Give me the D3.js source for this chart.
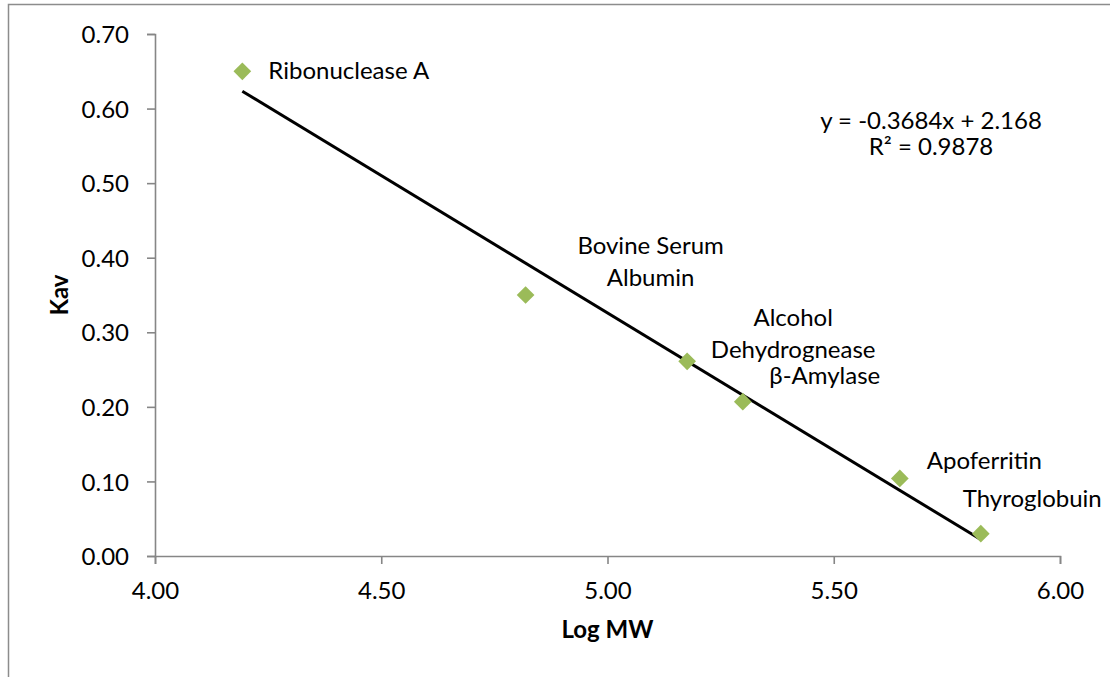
<!DOCTYPE html>
<html>
<head>
<meta charset="utf-8">
<script src="https://cdn.jsdelivr.net/npm/d3@7"></script>
<style>
  html, body { margin: 0; padding: 0; background: #fff; }
  svg { display: block; font-family: Lato, "Open Sans", sans-serif; }
</style>
</head>
<body>
<svg id="chart" width="1110" height="677"></svg>
<script>
// Protein standards: log molecular weight vs. partition coefficient
const proteins = ["Ribonuclease A", "Bovine Serum Albumin", "Alcohol Dehydrognease", "β-Amylase", "Apoferritin", "Thyroglobuin"];
const logMW = [4.193, 4.819, 5.176, 5.299, 5.646, 5.825];
const kav = [0.650, 0.350, 0.261, 0.207, 0.104, 0.030];

// Linear fit reported for the standards
const slope = -0.3684;
const intercept = 2.168;
const rSquared = 0.9878;

const xTicks = [4.00, 4.50, 5.00, 5.50, 6.00];
const yTicks = [0.00, 0.10, 0.20, 0.30, 0.40, 0.50, 0.60, 0.70];

// Label text lines and placement relative to each marker (px)
const labelLines = [
  ["Ribonuclease A"],
  ["Bovine Serum", "Albumin"],
  ["Alcohol", "Dehydrognease"],
  ["β-Amylase"],
  ["Apoferritin"],
  ["Thyroglobuin"]
];
const labelLayout = [
  { dx: 26,  dy: 8,    anchor: "start" },
  { dx: 125, dy: -41,  anchor: "middle" },
  { dx: 106, dy: -35,  anchor: "middle" },
  { dx: 82,  dy: -18,  anchor: "middle" },
  { dx: 27,  dy: -9,   anchor: "start" },
  { dx: -18, dy: -27,  anchor: "start" }
];

const fontSize = "24px";
const svg = d3.select("#chart");
const axisColor = "#868686";

// Outer chart frame
svg.append("rect")
  .attr("x", 8.5).attr("y", 4.5)
  .attr("width", 1200).attr("height", 800)
  .attr("fill", "none")
  .attr("stroke", "#8c8c8c")
  .attr("stroke-width", 1.5);

const x = d3.scaleLinear().domain([4, 6]).range([155, 1060]);
const y = d3.scaleLinear().domain([0, 0.7]).range([556, 34]);

// X axis
const xAxis = svg.append("g")
  .attr("transform", `translate(0,${y(0)})`)
  .call(d3.axisBottom(x).tickValues(xTicks).tickFormat(d3.format(".2f")).tickSizeOuter(0).tickSize(8).tickPadding(18));

// Y axis
const yAxis = svg.append("g")
  .attr("transform", `translate(${x(4)},0)`)
  .call(d3.axisLeft(y).tickValues(yTicks).tickFormat(d3.format(".2f")).tickSizeOuter(0).tickSize(8).tickPadding(18));

[xAxis, yAxis].forEach(g => {
  g.select(".domain").attr("stroke", axisColor).attr("stroke-width", 1.6);
  g.selectAll(".tick line").attr("stroke", axisColor).attr("stroke-width", 1.6);
  g.selectAll(".tick text")
    .attr("fill", "#000")
    .style("font-family", "Lato, sans-serif")
    .style("font-size", fontSize);
});
xAxis.selectAll(".tick text").attr("dy", "0.71em");
yAxis.selectAll(".tick text").attr("dy", "0.36em");

// Axis titles
svg.append("text")
  .attr("x", (x(4) + x(6)) / 2).attr("y", 638)
  .attr("text-anchor", "middle")
  .style("font-size", fontSize).style("font-weight", "bold")
  .text("Log MW");

svg.append("text")
  .attr("transform", `translate(68,${(y(0) + y(0.7)) / 2}) rotate(-90)`)
  .attr("text-anchor", "middle")
  .style("font-size", fontSize).style("font-weight", "bold")
  .text("Kav");

// Trendline over the range of the standards
const xMin = d3.min(logMW), xMax = d3.max(logMW);
svg.append("line")
  .attr("x1", x(xMin)).attr("y1", y(slope * xMin + intercept))
  .attr("x2", x(xMax)).attr("y2", y(slope * xMax + intercept))
  .attr("stroke", "#000")
  .attr("stroke-width", 3);

// Diamond markers
const diamond = d3.symbol().type(d3.symbolDiamond2).size(200);
svg.append("g").selectAll("path")
  .data(logMW.map((v, i) => [v, kav[i]]))
  .join("path")
  .attr("d", diamond)
  .attr("transform", d => `translate(${x(d[0])},${y(d[1])})`)
  .attr("fill", "#9BBB59");

// Data labels
const labels = svg.append("g").style("font-size", fontSize);
logMW.forEach((v, i) => {
  const lay = labelLayout[i];
  const t = labels.append("text")
    .attr("x", x(v) + lay.dx)
    .attr("y", y(kav[i]) + lay.dy)
    .attr("text-anchor", lay.anchor)
    .attr("fill", "#000");
  labelLines[i].forEach((line, j) => {
    t.append("tspan")
      .attr("x", x(v) + lay.dx)
      .attr("dy", j === 0 ? 0 : 32)
      .text(line);
  });
});

// Regression equation
const eq = svg.append("g").style("font-size", fontSize).attr("text-anchor", "middle");
eq.append("text").attr("x", 931).attr("y", 129)
  .text(`y = ${slope}x + ${intercept}`);
eq.append("text").attr("x", 931).attr("y", 155)
  .text(`R² = ${rSquared}`);
</script>
</body>
</html>
